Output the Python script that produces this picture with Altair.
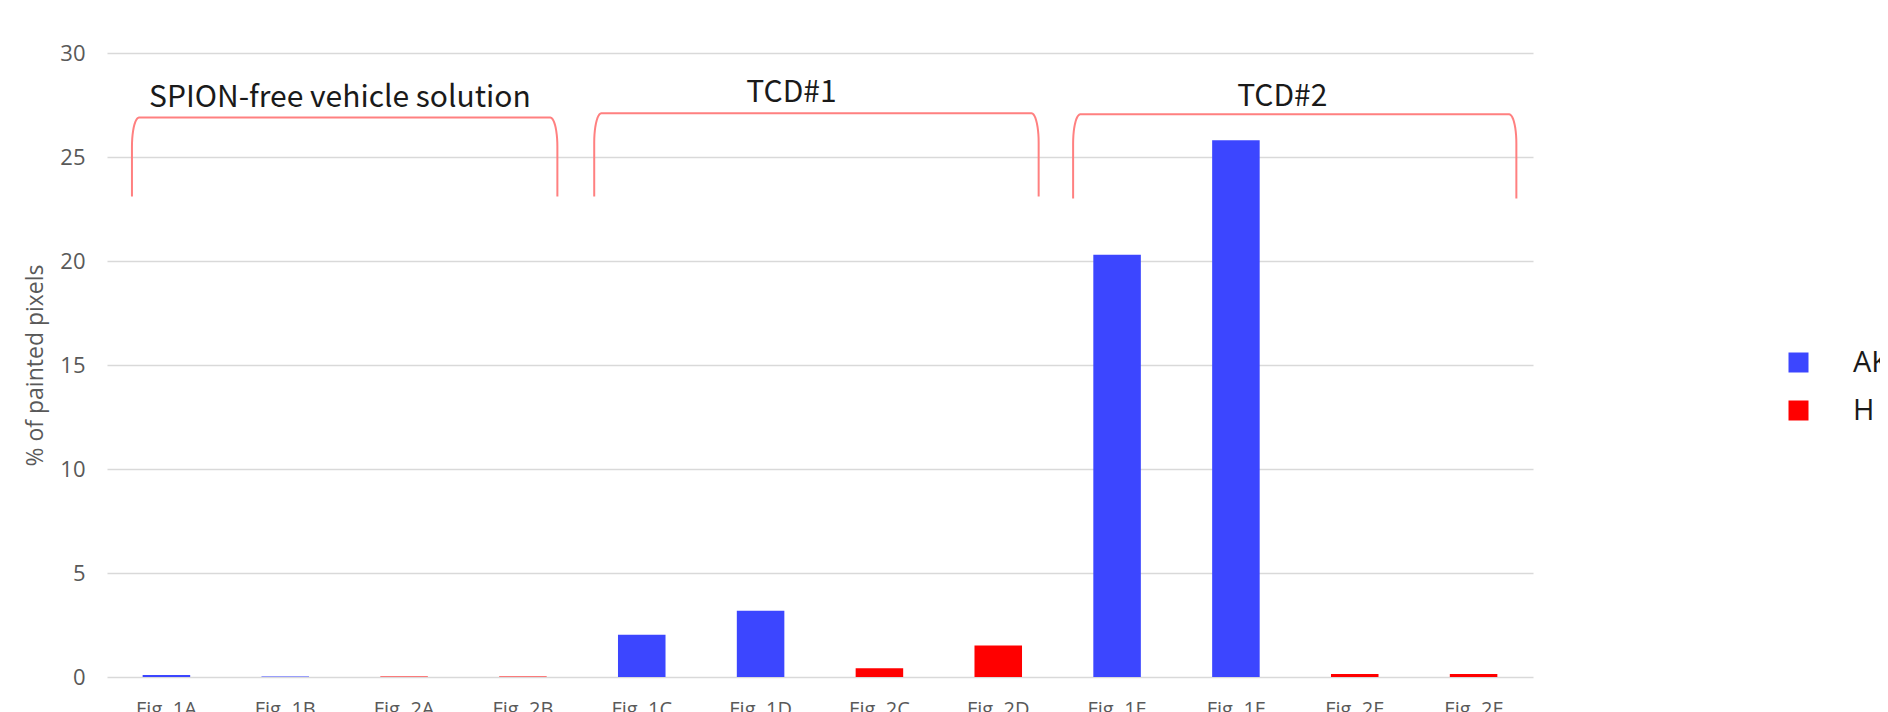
import altair as alt
import pandas as pd
import numpy as np

# ---- data ----
categories = ["Fig. 1A", "Fig. 1B", "Fig. 2A", "Fig. 2B", "Fig. 1C", "Fig. 1D",
              "Fig. 2C", "Fig. 2D", "Fig. 1E", "Fig. 1F", "Fig. 2E", "Fig. 2F"]
series = ["AK", "AK", "H", "H", "AK", "AK", "H", "H", "AK", "AK", "H", "H"]
values = [0.10, 0.03, 0.03, 0.03, 2.03, 3.18, 0.42, 1.52, 20.3, 25.8, 0.14, 0.14]

group_labels = ["SPION-free vehicle solution", "TCD#1", "TCD#2"]
label_x = [1.96, 5.76, 9.89]
label_y = [27.86, 28.09, 27.9]
bracket_left = [0.21, 4.10, 8.13]
bracket_right = [3.79, 7.84, 11.86]
bracket_top = [26.9, 27.1, 27.05]
bracket_bottom = [23.1, 23.1, 23.0]

bars = pd.DataFrame({"cat": categories, "series": series, "value": values})

# bracket outlines (rounded corners)
rx, ry = 0.06, 1.4
rows = []
for g in range(3):
    x0, x1, yt, yb = bracket_left[g], bracket_right[g], bracket_top[g], bracket_bottom[g]
    pts = [(x0, yb)]
    for th in np.linspace(0, np.pi / 2, 12):
        pts.append((x0 + rx - rx * np.cos(th), yt - ry + ry * np.sin(th)))
    for th in np.linspace(np.pi / 2, 0, 12):
        pts.append((x1 - rx + rx * np.cos(th), yt - ry + ry * np.sin(th)))
    pts.append((x1, yb))
    for i, (px, py) in enumerate(pts):
        rows.append({"g": g, "o": i, "x": px, "y": py})
brackets = pd.DataFrame(rows)
labels = pd.DataFrame({"t": group_labels, "x": label_x, "y": label_y})

yscale = alt.Scale(domain=[0, 30], nice=False)
xq = alt.Scale(domain=[0, 12], nice=False, zero=False)
yaxis = alt.Axis(values=[0, 5, 10, 15, 20, 25, 30], domain=False, ticks=False,
                 labelPadding=22, labelFontSize=22, labelColor="#595959",
                 labelFont="Open Sans", titleFont="Open Sans", titleFontSize=23,
                 titleFontWeight="normal", titleColor="#595959", titlePadding=12,
                 gridColor="#d9d9d9", gridWidth=1.5)
ytitle = "% of painted pixels"

bar_layer = alt.Chart(bars).mark_bar().encode(
    x=alt.X("cat:N", sort=categories, title=None,
            scale=alt.Scale(paddingInner=0.6, paddingOuter=0.3),
            axis=alt.Axis(labelAngle=0, domain=False, ticks=False, labelPadding=22,
                          labelFontSize=20, labelColor="#595959", labelFont="Open Sans")),
    y=alt.Y("value:Q", scale=yscale, title=ytitle, axis=yaxis),
    color=alt.Color("series:N", scale=alt.Scale(domain=["AK", "H"], range=["#3c46ff", "#ff0000"]),
                    legend=alt.Legend(title=None, orient="none", legendX=1677, legendY=295,
                                      symbolType="square", symbolSize=400, symbolStrokeWidth=0,
                                      labelFontSize=29, labelFont="Open Sans", labelColor="#1a1a1a",
                                      labelOffset=40, rowPadding=18, padding=0)),
)

bracket_layer = alt.Chart(brackets).mark_line(color="#ff8080", strokeWidth=2).encode(
    x=alt.X("x:Q", scale=xq, axis=None),
    y=alt.Y("y:Q", scale=yscale, title=ytitle, axis=yaxis),
    detail="g:N",
    order="o:Q",
)

text_layer = alt.Chart(labels).mark_text(fontSize=30, font="Noto Sans CJK JP", color="#1a1a1a",
                                         baseline="middle", align="center").encode(
    x=alt.X("x:Q", scale=xq, axis=None),
    y=alt.Y("y:Q", scale=yscale, title=ytitle, axis=yaxis),
    text="t:N",
)

chart = alt.layer(bar_layer, bracket_layer, text_layer).resolve_scale(x="independent").properties(
    width=1426, height=624,
    autosize=alt.AutoSizeParams(type="none"),
    padding={"left": 99, "top": 45, "right": 347, "bottom": 35},
).configure_view(stroke=None)

chart.save("out.html", embed_options={"renderer": "svg", "actions": False})
